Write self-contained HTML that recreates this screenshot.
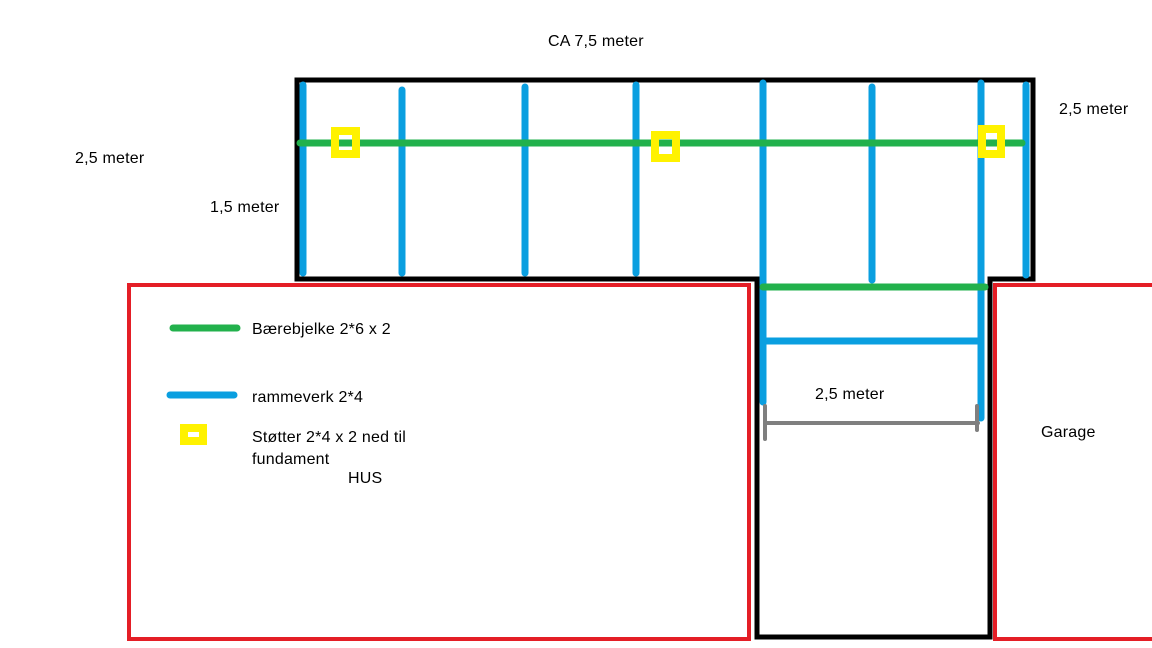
<!DOCTYPE html>
<html><head><style>
html,body{margin:0;padding:0;background:#fff;width:1152px;height:648px;overflow:hidden}
text{font-family:"Liberation Sans",sans-serif;font-size:16px;fill:#000;dominant-baseline:middle;letter-spacing:0.2px}
</style></head><body>
<svg width="1152" height="648" xmlns="http://www.w3.org/2000/svg">
<rect x="129" y="285" width="620" height="354" fill="none" stroke="#e41e26" stroke-width="4"/>
<rect x="995" y="285" width="170" height="354" fill="none" stroke="#e41e26" stroke-width="4"/>
<path d="M297,80 L1033,80 L1033,279 L990,279 L990,637 L757,637 L757,279 L297,279 Z" fill="none" stroke="#000" stroke-width="5"/>
<g stroke="#0a9fe0" stroke-width="7" stroke-linecap="round">
<line x1="303" y1="85" x2="303" y2="273"/>
<line x1="402" y1="90" x2="402" y2="273"/>
<line x1="525" y1="87" x2="525" y2="273"/>
<line x1="636" y1="85" x2="636" y2="273"/>
<line x1="763" y1="83" x2="763" y2="402"/>
<line x1="872" y1="87" x2="872" y2="280"/>
<line x1="981" y1="83" x2="981" y2="418"/>
<line x1="1026" y1="85" x2="1026" y2="275"/>
<line x1="763" y1="341" x2="980" y2="341"/>
<line x1="170" y1="395" x2="234" y2="395"/>
</g>
<g stroke="#22b14c" stroke-width="7" stroke-linecap="round">
<line x1="300" y1="143" x2="1022" y2="143"/>
<line x1="763" y1="287" x2="985" y2="287"/>
<line x1="173" y1="328" x2="237" y2="328"/>
</g>
<g fill="none" stroke="#fff200" stroke-width="8">
<rect x="335" y="131" width="21" height="23"/>
<rect x="655" y="135" width="21" height="23"/>
<rect x="982" y="129" width="19" height="25"/>
<rect x="184" y="428" width="19" height="13"/>
</g>
<g stroke="#7f7f7f" stroke-width="4" stroke-linecap="round">
<line x1="765" y1="423" x2="978" y2="423"/>
<line x1="765" y1="406" x2="765" y2="439"/>
<line x1="977" y1="406" x2="977" y2="430"/>
</g>
<text x="548" y="42">CA 7,5 meter</text>
<text x="75" y="159">2,5 meter</text>
<text x="210" y="208">1,5 meter</text>
<text x="1059" y="110">2,5 meter</text>
<text x="252" y="330">Bærebjelke  2*6 x 2</text>
<text x="252" y="398">rammeverk 2*4</text>
<text x="252" y="438">Støtter 2*4 x 2 ned til</text>
<text x="252" y="460">fundament</text>
<text x="348" y="479">HUS</text>
<text x="815" y="395">2,5 meter</text>
<text x="1041" y="433">Garage</text>
</svg>
</body></html>
